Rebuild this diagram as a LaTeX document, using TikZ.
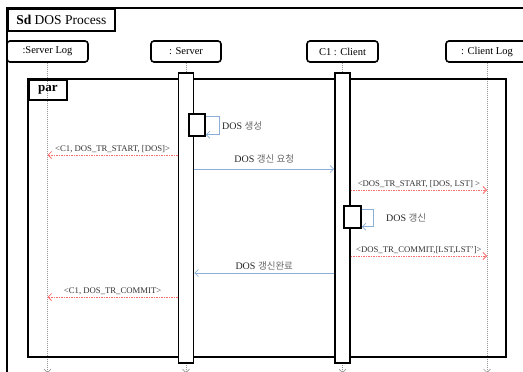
\documentclass[tikz,border=0pt]{standalone}
\usepackage{fontspec}
\setmainfont{Liberation Serif}
\newfontfamily\kr{Noto Sans CJK KR}
\usepackage{xcolor}
\usetikzlibrary{positioning, arrows.meta}

\definecolor{msgblue}{RGB}{140,175,215}
\definecolor{msgred}{RGB}{250,110,110}
\definecolor{lifegray}{RGB}{150,150,150}
\newcommand\krtext[1]{{\kr\fontsize{9.5}{11}\selectfont\color{black!60}#1}}

\begin{document}
\begin{tikzpicture}[x=1pt, y=-1pt, on grid, >={Straight Barb[length=3.5pt, width=7pt]},
        frame/.style={draw, line width=1.6pt},
        tab/.style={draw, line width=1.6pt, anchor=north west, inner sep=2pt},
        head/.style={draw, rounded corners=3pt, line width=1.6pt, minimum height=21pt, font=\fontsize{10.5}{13}\selectfont},
        bar/.style={draw, fill=white, line width=1.6pt, minimum width=15pt, inner sep=0pt},
        life/.style={draw=lifegray, line width=0.7pt, dash pattern=on 1pt off 1pt, ->},
        call/.style={draw=msgblue, line width=0.8pt, ->},
        ret/.style={draw=msgred, line width=0.8pt, dash pattern=on 1.5pt off 1pt, ->},
        lbl/.style={font=\fontsize{8.7}{10}\selectfont, text=black!80, inner sep=2pt},
        klbl/.style={font=\fontsize{10}{12}\selectfont, text=black!85, inner sep=2pt}]
    \useasboundingbox (0,0) rectangle (523,372);

    \draw[frame] (7,8) rectangle (540,390);
    \node[tab, minimum width=107pt, minimum height=22pt, font=\fontsize{13.5}{16}\selectfont] (sd) at (7,8) {\textbf{Sd} DOS Process};

    \node[head, minimum width=81pt] (slog) at (47.5,51.5) {:Server Log};
    \node[head, minimum width=70pt] (srv) [right=138.5pt of slog] {: Server};
    \node[head, minimum width=71pt] (cli) [right=156.5pt of srv] {C1 : Client};
    \node[head, minimum width=82pt] (clog) [right=144.5pt of cli] {: Client Log};

    \coordinate[below=321.5pt of slog] (slog end);
    \coordinate[below=321.5pt of srv] (srv end);
    \coordinate[below=321.5pt of cli] (cli end);
    \coordinate[below=321.5pt of clog] (clog end);

    \path
    (slog) edge[life] (slog end)
    (srv) edge[life] (srv end)
    (cli) edge[life] (cli end)
    (clog) edge[life] (clog end);

    \draw[frame] (28,79) rectangle (506,357);
    \node[tab, minimum width=38pt, minimum height=20pt, font=\bfseries\fontsize{13}{15}\selectfont] (par) at (28,79) {par};

    \node[bar, minimum height=290pt] (srvbar) [below=166.5pt of srv] {};
    \node[bar, minimum height=290pt] (clibar) [below=166.5pt of cli] {};
    \node[bar, minimum width=16pt, minimum height=22pt] (srvact) at (197,125) {};
    \node[bar, minimum width=17pt, minimum height=22pt] (cliact) at (352.5,217) {};

    \draw[call] ([yshift=-3pt]srvact.north east) -- ++(14,0) |- node[klbl, pos=0.25, right] {DOS \krtext{생성}} ([yshift=2pt]srvact.south east);
    \draw[call] ([yshift=-4pt]cliact.north east) -- ++(12,0) |- node[klbl, pos=0.25, right=10pt] {DOS \krtext{갱신}} ([yshift=2pt]cliact.south east);

    \path
    (srvbar.west |- 0,155) edge[ret] node[lbl, above] {<C1, DOS\_TR\_START, [DOS]>} (slog |- 0,155)
    (srvbar.east |- 0,169) edge[call] node[klbl, above=3pt] {DOS \krtext{갱신 요청}} (clibar.west |- 0,169)
    (clibar.east |- 0,190) edge[ret] node[lbl, above] {<DOS\_TR\_START, [DOS, LST] >} (clog |- 0,190)
    (clibar.east |- 0,256) edge[ret] node[lbl, above] {<DOS\_TR\_COMMIT,[LST,LST']>} (clog |- 0,256)
    (clibar.west |- 0,273) edge[call] node[klbl, above=0.5pt] {DOS \krtext{갱신완료}} (srvbar.east |- 0,273)
    (srvbar.west |- 0,297) edge[ret] node[lbl, above] {<C1, DOS\_TR\_COMMIT>} (slog |- 0,297);
\end{tikzpicture}
\end{document}
